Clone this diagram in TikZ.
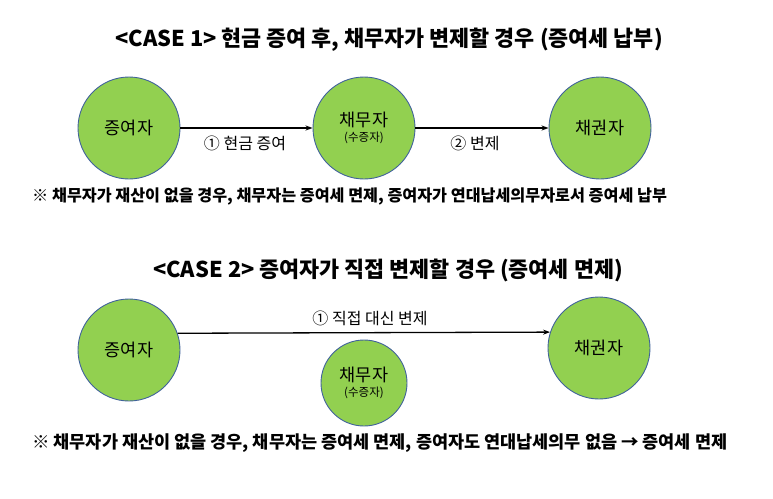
\documentclass[tikz,border=0pt]{standalone}
\usepackage{fontspec}
\setmainfont{Noto Sans CJK KR}
\usetikzlibrary{arrows.meta}
\definecolor{cfill}{HTML}{92D050}
\definecolor{cline}{HTML}{41629C}
\tikzset{
  party/.style={circle, fill=cfill, draw=cline, line width=0.9pt, minimum size=102pt, inner sep=0pt, font=\fontsize{17.5}{19}\selectfont, align=center},
  smallparty/.style={party, minimum size=86pt},
  flow/.style={-{Stealth[length=7pt,width=5pt]}, line width=1.3pt, black},
  lbl/.style={font=\fontsize{16}{18}\selectfont, inner sep=0pt},
  ttl/.style={font=\bfseries\fontsize{21.8}{24}\selectfont, inner sep=0pt},
  note/.style={font=\bfseries\fontsize{16.2}{18}\selectfont, inner sep=0pt, anchor=west},
  sub/.style={font=\fontsize{11.5}{12}\selectfont},
}
\begin{document}
\begin{tikzpicture}[x=1pt,y=-1pt]
\useasboundingbox (0,0) rectangle (773,498);
% CASE 1
\node[ttl] (t1) at (389,40) {<CASE 1> 현금 증여 후, 채무자가 변제할 경우 (증여세 납부)};
\node[party] (a1) at (129,128) {증여자};
\node[party] (b1) at (364,128) {채무자\\[-4pt]{\fontsize{11.5}{12}\selectfont (수증자)}};
\node[party] (c1) at (600,128) {채권자};
\draw[flow] (a1) -- (b1);
\draw[flow] (b1) -- (c1);
\node[lbl] (l1) at (245,143) {① 현금 증여};
\node[lbl] (l2) at (475,143) {② 변제};
\node[note] (n1) at (32,196) {※ 채무자가 재산이 없을 경우, 채무자는 증여세 면제, 증여자가 연대납세의무자로서 증여세 납부};
% CASE 2
\node[ttl] (t2) at (388,270) {<CASE 2> 증여자가 직접 변제할 경우 (증여세 면제)};
\node[party] (a2) at (129,350) {증여자};
\node[party] (c2) at (599,348) {채권자};
\node[smallparty] (b2) at (364,383) {채무자\\[-4pt]{\fontsize{11.5}{12}\selectfont (수증자)}};
\draw[flow] (a2.19.5) -- (c2.162.9);
\node[lbl] (l3) at (370,318) {① 직접 대신 변제};
\node[note, font=\bfseries\fontsize{17.5}{19}\selectfont] (n2) at (32,443) {※ 채무자가 재산이 없을 경우, 채무자는 증여세 면제, 증여자도 연대납세의무 없음 → 증여세 면제};
\end{tikzpicture}
\end{document}
